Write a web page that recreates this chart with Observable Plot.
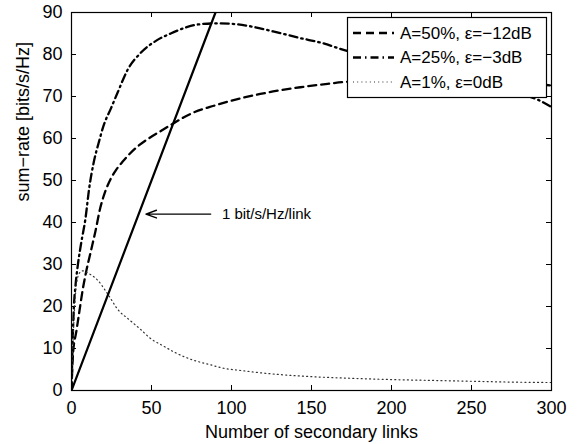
<!DOCTYPE html>
<html><head><meta charset="utf-8">
<script src="https://cdn.jsdelivr.net/npm/d3@7"></script>
<script src="https://cdn.jsdelivr.net/npm/@observablehq/plot@0.6"></script>
<style>body{margin:0;background:#fff}#chart{width:583px;height:444px}</style>
</head><body><div id="chart"></div>
<script>
const xTicks = [0, 50, 100, 150, 200, 250, 300];
const yTicks = [0, 10, 20, 30, 40, 50, 60, 70, 80, 90];
const xLabel = "Number of secondary links";
const yLabel = "sum\u2212rate [bits/s/Hz]";

// A=50%, eps=-12dB (dashed)
const a50X = [0, 1, 3, 5, 7, 9, 12, 15, 18, 21, 24.4, 28, 32, 35, 41, 47, 55, 62, 70, 77, 89, 105, 118, 126, 143, 160, 172, 200, 230, 260, 295, 300];
const a50Y = [0, 9, 14, 19, 24, 28, 33, 38, 43.5, 47.3, 50.3, 52.6, 54.5, 55.8, 58, 59.7, 61.6, 63.2, 65, 66.3, 67.8, 69.5, 70.6, 71.2, 72.2, 73, 73.5, 73.8, 73.6, 73.3, 72.8, 72.6];
// A=25%, eps=-3dB (dash-dot)
const a25X = [0, 0.5, 1, 1.5, 2.5, 4, 6, 8.75, 11, 14, 17, 20, 24.8, 28.9, 35, 43, 53, 62, 72, 80, 90, 100, 112, 126, 143, 157, 170, 185, 200, 225, 250, 275, 291, 300];
const a25Y = [0, 8, 15, 20, 25, 30, 35, 41, 48, 54.5, 59, 63, 67.3, 71, 76.3, 80.3, 83.3, 85, 86.5, 87.2, 87.4, 87.3, 86.7, 85.5, 83.9, 82.7, 81.1, 79.6, 78.2, 75.8, 73.5, 71, 69.3, 67.5];
// A=1%, eps=0dB (dotted)
const a1X = [0, 1, 2, 3, 5, 7, 10, 16.5, 22.4, 30, 35, 43, 50, 56, 66, 74, 87, 95, 105, 116, 130, 150, 175, 200, 225, 250, 275, 300];
const a1Y = [0, 12, 20, 25, 28, 28.5, 28, 26.2, 23.1, 18.8, 17.2, 14.6, 12.2, 10.9, 8.8, 7.5, 6.1, 5.3, 4.8, 4.3, 3.8, 3.3, 2.9, 2.6, 2.4, 2.2, 2.0, 1.9];
// 1 bit/s/Hz/link reference line
const refX = [0, 90];
const refY = [0, 90];

const annotation = [{x1: 87, x2: 46.5, y: 42, tx: 94, text: "1 bit/s/Hz/link"}];

const series = [
  {name: "A=50%, \u03b5=\u221212dB", xs: a50X, ys: a50Y, dash: "8,5", sw: 2.3, color: "#000"},
  {name: "A=25%, \u03b5=\u22123dB", xs: a25X, ys: a25Y, dash: "8,4,1.5,4", sw: 2.3, color: "#000"},
  {name: "A=1%, \u03b5=0dB", xs: a1X, ys: a1Y, dash: "1,3.2", sw: 1.2, color: "#333"}
];
const toRows = (xs, ys) => xs.map((x, i) => ({x, y: ys[i]}));

const W = 583, H = 444, mL = 71, mR = 32, mT = 12, mB = 54;
const iw = W - mL - mR, ih = H - mT - mB;
const tickPx = 5;
const xDom = [0, 300], yDom = [0, 90];
const tx = tickPx * (xDom[1] - xDom[0]) / iw; // tick length in x units
const ty = tickPx * (yDom[1] - yDom[0]) / ih; // tick length in y units
const FONT = "'Liberation Sans', Arial, sans-serif";

const plot = Plot.plot({
  width: W, height: H,
  marginLeft: mL, marginRight: mR, marginTop: mT, marginBottom: mB,
  style: {fontFamily: FONT, fontSize: "18px", color: "#000", background: "#fff"},
  x: {domain: xDom},
  y: {domain: yDom},
  marks: [
    Plot.axisX({ticks: xTicks, tickSize: 0, tickPadding: 11, label: null, tickFormat: d => d}),
    Plot.axisY({ticks: yTicks, tickSize: 0, tickPadding: 9, label: null, tickFormat: d => d}),
    Plot.ruleX(xTicks, {x: d => d, y1: yDom[0], y2: yDom[0] + ty, stroke: "#000"}),
    Plot.ruleX(xTicks, {x: d => d, y1: yDom[1] - ty, y2: yDom[1], stroke: "#000"}),
    Plot.ruleY(yTicks, {y: d => d, x1: xDom[0], x2: xDom[0] + tx, stroke: "#000"}),
    Plot.ruleY(yTicks, {y: d => d, x1: xDom[1] - tx, x2: xDom[1], stroke: "#000"}),
    ...series.map(s => Plot.line(toRows(s.xs, s.ys), {x: "x", y: "y", stroke: s.color, strokeWidth: s.sw, strokeDasharray: s.dash, curve: "monotone-x", clip: true})),
    Plot.line(toRows(refX, refY), {x: "x", y: "y", stroke: "#000", strokeWidth: 2.2, clip: true}),
    Plot.frame({stroke: "#000", strokeWidth: 1.2}),
    Plot.arrow(annotation, {x1: "x1", y1: "y", x2: "x2", y2: "y", stroke: "#000", strokeWidth: 1.4, headLength: 12, headAngle: 40}),
    Plot.text(annotation, {x: "tx", y: "y", text: "text", textAnchor: "start", fontSize: 15}),
    Plot.text([xLabel], {frameAnchor: "bottom", lineAnchor: "middle", dy: 42, text: d => d}),
    Plot.text([yLabel], {frameAnchor: "left", lineAnchor: "middle", rotate: -90, dx: -48, text: d => d})
  ]
});
document.getElementById("chart").appendChild(plot);

// legend inside the plot, top-right
const svg = d3.select(plot);
const lg = svg.append("g").attr("font-family", FONT).attr("font-size", 17).attr("text-anchor", "start");
lg.append("rect").attr("x", 347.5).attr("y", 17.5).attr("width", 199).attr("height", 80)
  .attr("fill", "#fff").attr("stroke", "#000").attr("stroke-width", 1.2);
const rowY = [33, 57.5, 82];
series.forEach((s, i) => {
  lg.append("line").attr("x1", 353).attr("x2", 394).attr("y1", rowY[i]).attr("y2", rowY[i])
    .attr("stroke", s.color).attr("stroke-width", s.sw).attr("stroke-dasharray", s.dash);
  lg.append("text").attr("x", 400).attr("y", rowY[i]).attr("dy", "0.35em").attr("text-anchor", "start").text(s.name);
});
</script>
</body></html>
